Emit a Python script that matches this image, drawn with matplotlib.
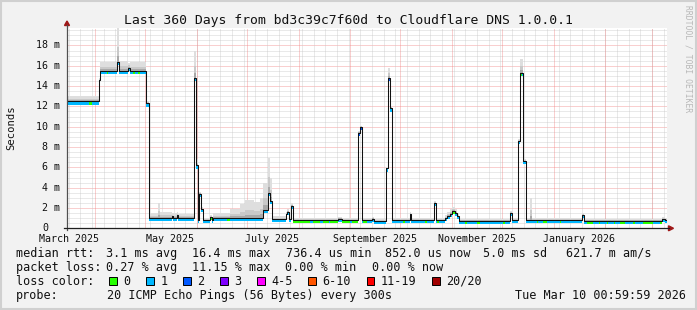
import matplotlib
matplotlib.use("Agg")
import matplotlib.pyplot as plt
import matplotlib.transforms as mtransforms
from matplotlib.lines import Line2D
from matplotlib.patches import Polygon, Rectangle
from datetime import datetime, timedelta
import numpy as np

plt.rcParams['font.family'] = ['DejaVu Sans Mono', 'DejaVu Sans']

# ---------------- data ----------------
start_time = datetime(2025, 3, 15, 0, 59, 59)
span_days = 360

# step segments: start day (from start_time), median rtt (ms), top of smoke (ms)
seg_day = [0, 19.2, 19.8, 29.8, 31.2, 36.8, 37.6, 47.4, 48.9, 54.6, 55.8, 62.8, 63.8, 66.0, 66.6,
           76.4, 77.4, 78.3, 79.4, 80.6, 81.4, 85.8, 86.8, 87.6, 98.0, 103.8, 107.0, 112.0, 115.5,
           117.6, 120.3, 121.5, 122.7,
           131.1, 132.0, 133.2, 134.6, 135.6, 162.8, 164.8, 174.8, 175.6, 176.8, 183.0, 184.0, 191.1,
           192.3, 193.5, 194.8, 205.5, 206.4, 220.2, 221.4, 226.8, 228.0, 229.5, 231.0, 232.5, 234.0,
           235.2, 266.0, 267.0, 270.8, 271.6, 273.8, 275.6, 278.0, 279.0, 309.0, 310.0, 357.0, 358.5]
median_ms = [12.5, 14.6, 15.5, 16.4, 15.5, 15.8, 15.5, 12.3, 1.0, 1.0, 1.0, 1.2, 1.0, 1.3, 1.0,
             14.8, 6.2, 0.8, 3.4, 1.9, 0.8, 1.1, 0.8, 1.0, 1.0, 1.0, 1.0, 1.0, 1.0,
             1.8, 3.5, 2.7, 0.9,
             1.4, 1.6, 0.9, 2.2, 0.8, 0.95, 0.8, 9.4, 10.0, 0.8, 0.95, 0.7, 5.9,
             14.8, 11.8, 0.8, 1.4, 0.8, 2.5, 0.8, 1.0, 1.2, 1.4, 1.7, 1.5, 1.2,
             0.75, 1.5, 0.8, 8.6, 15.3, 6.6, 0.8, 0.8, 0.8, 1.3, 0.75, 0.9, 0.8]
smoke_hi_ms = [13.0, 14.8, 16.4, 19.7, 16.5, 16.3, 16.4, 12.5, 1.5, 2.5, 1.6, 1.5, 1.5, 1.6, 1.4,
               17.5, 6.8, 1.0, 3.6, 2.1, 1.0, 1.3, 1.0, 1.5, 1.9, 2.4, 2.8, 2.6, 3.0,
               4.5, 6.9, 5.0, 1.2,
               1.6, 1.9, 1.1, 2.5, 1.0, 1.1, 1.0, 9.6, 10.1, 1.0, 1.1, 0.9, 6.0,
               15.8, 12.0, 1.0, 1.6, 1.0, 2.7, 1.0, 1.3, 1.6, 1.9, 2.1, 1.9, 1.5,
               0.95, 1.7, 1.0, 8.8, 16.7, 6.8, 1.0, 3.0, 1.0, 1.5, 0.95, 1.1, 1.0]

# loss category changes: start day, loss category index
loss_day = [0, 13.4, 14.8, 24.0, 24.8, 39.8, 40.8, 42.8, 43.8, 85.8, 86.8, 95.8, 97.8,
            135.6, 145.8, 147.6, 151.8, 153.6, 157.0, 158.0, 162.8, 164.8, 170.0, 171.0,
            174.8, 176.8, 177.6, 180.0, 192.3, 193.5,
            201.6, 202.6, 214.8, 215.8, 222.0, 223.0, 231.0, 232.5, 239.0, 240.0, 245.8, 247.8,
            261.6, 263.0, 271.6, 272.8, 281.8, 282.6, 285.6, 287.8, 295.8, 296.6, 311.8, 315.8,
            319.0, 320.0, 323.8, 324.8, 328.0, 329.0, 331.8, 334.8, 339.8, 340.8, 345.8, 351.6,
            355.8, 356.8]
loss_code = [1, 0, 1, 0, 1, 0, 1, 0, 1, 0, 1, 0, 1,
             0, 1, 0, 1, 0, 1, 0, 1, 0, 1, 0,
             2, 1, 0, 1, 2, 1,
             0, 1, 0, 1, 0, 1, 0, 1, 0, 1, 0, 1,
             0, 1, 0, 1, 0, 1, 0, 1, 0, 1, 0, 1,
             0, 1, 0, 1, 0, 1, 0, 1, 0, 1, 0, 1,
             0, 1]

loss_labels = ["0", "1", "2", "3", "4-5", "6-10", "11-19", "20/20"]
loss_colors = ["#26ff00", "#00b8ff", "#0059ff", "#7e00ff", "#ff00ff", "#ff5500", "#ff0000", "#a10000"]

ytick_ms = [0, 2, 4, 6, 8, 10, 12, 14, 16, 18]
ytick_labels = ["0  ", "2 m", "4 m", "6 m", "8 m", "10 m", "12 m", "14 m", "16 m", "18 m"]
xlabel_dates = [datetime(2025, 3, 16), datetime(2025, 5, 16), datetime(2025, 7, 16),
                datetime(2025, 9, 16), datetime(2025, 11, 16), datetime(2026, 1, 16)]
xlabel_text = ["March 2025", "May 2025", "July 2025", "September 2025", "November 2025", "January 2026"]

title_text = "Last 360 Days from bd3c39c7f60d to Cloudflare DNS 1.0.0.1"
ylabel_text = "Seconds"
watermark = "RRDTOOL / TOBI OETIKER"
rtt_items = ["median rtt:", "3.1 ms avg", "16.4 ms max", "736.4 us min", "852.0 us now", "5.0 ms sd", "621.7 m am/s"]
ploss_items = ["packet loss:", "0.27 % avg", "11.15 % max", "0.00 % min", "0.00 % now"]
color_title = "loss color:"
probe_items = ["probe:", "20 ICMP Echo Pings (56 Bytes) every 300s"]
stamp_text = "Tue Mar 10 00:59:59 2026"

# ---------------- figure ----------------
W, H, DPI = 697, 310, 100
fig = plt.figure(figsize=(W / DPI, H / DPI), dpi=DPI)
fig.patch.set_facecolor("#f2f2f2")
pixT = mtransforms.Affine2D().scale(1, -1).translate(0, H)  # top-left pixel coords

L, R, T, B = 67.0, 667.0, 28.3, 228.3
ax = fig.add_axes([L / W, 1 - B / H, (R - L) / W, (B - T) / H])
ax.set_facecolor("white")
ymax = (B - T) / 10.16
ax.set_xlim(0, span_days)
ax.set_ylim(0, ymax)
for s in ax.spines.values():
    s.set_visible(False)


def day_of(dt):
    return (dt - start_time).total_seconds() / 86400.0


dot = (0, (1, 1))
minor_c, major_c = "#c8c8c8", "#f08080"
for v in np.arange(0.5, ymax, 0.5):
    major = abs(v / 2 - round(v / 2)) < 1e-6
    ax.axhline(v, color=major_c if major else minor_c, lw=0.72, ls=dot, zorder=1,
               alpha=0.75 if major else 0.8)

# weekly (Sunday) minor grid and monthly major grid
d = datetime(2025, 3, 16)
while day_of(d) < span_days:
    ax.axvline(day_of(d), color=minor_c, lw=0.72, ls=dot, zorder=1, alpha=0.8)
    d += timedelta(days=7)
y_, m_ = 2025, 4
while True:
    dd = datetime(y_, m_, 1)
    if day_of(dd) >= span_days:
        break
    ax.axvline(day_of(dd), color=major_c, lw=0.72, ls=dot, zorder=1, alpha=0.75)
    m_ += 1
    if m_ > 12:
        m_, y_ = 1, y_ + 1

# smoke
x_ext = list(seg_day) + [span_days]
med_ext = np.array(list(median_ms) + [median_ms[-1]])
hi_ext = np.array(list(smoke_hi_ms) + [smoke_hi_ms[-1]])
lo_ext = med_ext - 0.12
ax.fill_between(x_ext, lo_ext, hi_ext, step="post", color="#dedede", lw=0, zorder=2)
ax.fill_between(x_ext, lo_ext, med_ext + 0.45 * (hi_ext - med_ext), step="post", color="#c9c9c9", lw=0, zorder=2)
ax.fill_between(x_ext, lo_ext, med_ext + 0.18 * (hi_ext - med_ext), step="post", color="#a9a9a9", lw=0, zorder=2)

# loss coloured median band
bps = sorted(set(list(seg_day) + list(loss_day) + [span_days]))
for a, b in zip(bps[:-1], bps[1:]):
    i = int(np.searchsorted(seg_day, a, side="right") - 1)
    j = int(np.searchsorted(loss_day, a, side="right") - 1)
    mv = median_ms[i]
    ax.fill_between([a, b], [mv - 0.32] * 2, [mv] * 2, color=loss_colors[loss_code[j]], lw=0, zorder=3)

ax.step(x_ext, med_ext, where="post", color="#111111", lw=0.75, zorder=4)

# ticks (y labels placed in a fixed-width column, right edge at x=60 px)
ax.set_yticks(ytick_ms)
ax.set_yticklabels([])
ax.tick_params(axis="y", length=0)
ylabT = mtransforms.blended_transform_factory(pixT, ax.transData)
cw_tick = 0.6021 * 7.2 * DPI / 72.0
for v, lab in zip(ytick_ms, ytick_labels):
    fig.text(60.3 - len(lab) * cw_tick, v, lab.rstrip(), transform=ylabT, ha="left", va="center",
             fontsize=7.2, color="#111111")
ax.set_xticks([day_of(dt) for dt in xlabel_dates])
ax.set_xticklabels(xlabel_text)
ax.tick_params(axis="x", length=0, pad=4.0, labelsize=7.2, labelcolor="#111111")

# axes lines and arrows
fig.add_artist(Line2D([L, L], [B + 2, 25], color="#505050", lw=0.9, transform=pixT))
fig.add_artist(Line2D([L - 3, 669], [B, B], color="#202020", lw=0.9, transform=pixT))
fig.add_artist(Polygon([[L - 2.5, 25.5], [L + 2.5, 25.5], [L, 21]], closed=True, color="#a01818", transform=pixT))
fig.add_artist(Polygon([[668.5, B - 2.5], [668.5, B + 2.5], [673.5, B]], closed=True, color="#a01818", transform=pixT))

# texts
fig.text(W / 2, 24.2, title_text, transform=pixT, ha="center", va="baseline", fontsize=9.45, color="#111111")
fig.text(11, 128, ylabel_text, transform=pixT, ha="center", va="center", rotation=90, fontsize=7.6, color="#111111")
fig.text(688, 5, watermark, transform=pixT, ha="center", va="top", rotation=-90, fontsize=5.8, color="#b8b8b8")

LF = 8.45
rtt_x = [15.7, 106.5, 192.5, 286.0, 385.3, 483.0, 566.0]
for s, xx in zip(rtt_items, rtt_x):
    fig.text(xx, 257, s, transform=pixT, ha="left", va="baseline", fontsize=LF, color="#111111")
ploss_x = [15.7, 106.5, 192.5, 285.3, 371.5]
for s, xx in zip(ploss_items, ploss_x):
    fig.text(xx, 271, s, transform=pixT, ha="left", va="baseline", fontsize=LF, color="#111111")
fig.text(15.7, 285, color_title, transform=pixT, ha="left", va="baseline", fontsize=LF, color="#111111")
bx = 109.4
for lab, col in zip(loss_labels, loss_colors):
    fig.add_artist(Rectangle((bx, 277.2), 7.6, 7.8, facecolor=col, edgecolor="black", lw=0.7, transform=pixT))
    fig.text(bx + 14.2, 285, lab, transform=pixT, ha="left", va="baseline", fontsize=LF, color="#111111")
    bx += 15.5 + (len(lab) + 2) * 7.15
fig.text(15.7, 299, probe_items[0], transform=pixT, ha="left", va="baseline", fontsize=LF, color="#111111")
fig.text(107.0, 299, probe_items[1], transform=pixT, ha="left", va="baseline", fontsize=LF, color="#111111")
fig.text(514.8, 299, stamp_text, transform=pixT, ha="left", va="baseline", fontsize=LF, color="#111111")

# frame
bc = "#d0d0d0"
fig.add_artist(Line2D([0, W], [1, 1], color=bc, lw=1.5, transform=pixT))
fig.add_artist(Line2D([1, 1], [0, H], color=bc, lw=1.5, transform=pixT))
fig.add_artist(Line2D([0, W], [H - 1, H - 1], color=bc, lw=1.5, transform=pixT))
fig.add_artist(Line2D([W - 1, W - 1], [0, H], color=bc, lw=1.5, transform=pixT))

fig.savefig("out.png", dpi=DPI, facecolor=fig.get_facecolor())
